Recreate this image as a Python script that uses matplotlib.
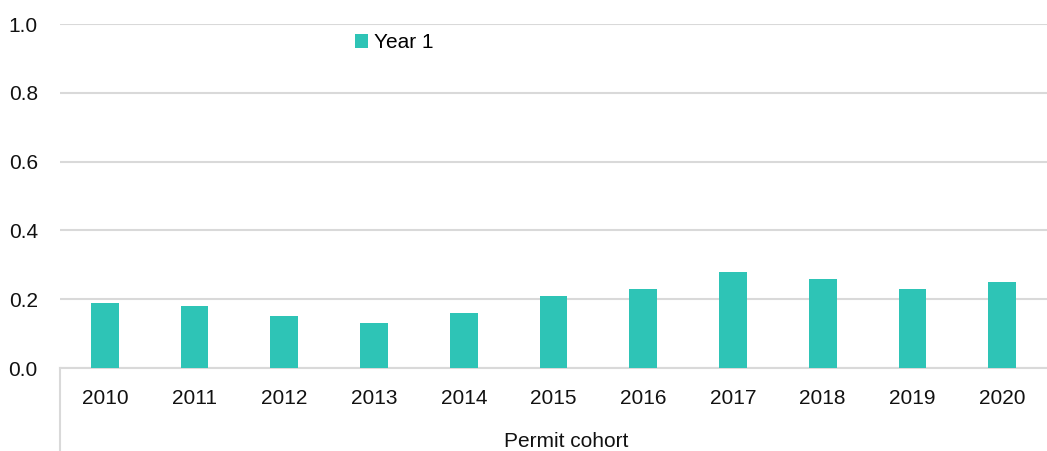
import matplotlib.pyplot as plt
import numpy as np

plt.rcParams["font.family"] = ["Liberation Sans", "DejaVu Sans"]

cohorts = ["2010", "2011", "2012", "2013", "2014", "2015",
           "2016", "2017", "2018", "2019", "2020"]
year1   = [0.19, 0.18, 0.15, 0.13, 0.16, 0.21, 0.23, 0.28, 0.26, 0.23, 0.25]

FS = 15

fig = plt.figure(figsize=(10.47, 4.51), dpi=100)
ax = fig.add_axes([60 / 1047, 1 - 368 / 451, 987 / 1047, 344 / 451])

x = np.arange(len(cohorts))
ax.bar(x, year1, width=0.31, color="#2EC4B6", label="Year 1", zorder=3)

ax.set_xlim(-0.5, len(cohorts) - 0.5)
ax.set_ylim(0, 1.0)
ax.set_yticks(np.arange(0, 1.01, 0.2))
ax.set_yticklabels([f"{v:.1f}" for v in np.arange(0, 1.01, 0.2)])
ax.set_xticks(x)
ax.set_xticklabels(cohorts)
ax.tick_params(axis="both", length=0, labelsize=FS, colors="#111111")
ax.tick_params(axis="y", pad=16)
ax.tick_params(axis="x", pad=15)

ax.grid(axis="y", color="#d9d9d9", linewidth=1.5, zorder=0)
for side in ["top", "right", "left"]:
    ax.spines[side].set_visible(False)
ax.spines["bottom"].set_color("#d9d9d9")
ax.spines["bottom"].set_linewidth(1.5)

# category axis frame extends below the plot
ax.plot([0, 0], [0, -0.245], transform=ax.transAxes, color="#d9d9d9",
        linewidth=1.5, clip_on=False)

ax.set_xlabel("Permit cohort", fontsize=FS, color="#111111")
ax.xaxis.set_label_coords(0.513, -0.215)
ax.xaxis.label.set_va("center")

ax.legend(loc="center left", bbox_to_anchor=(0.28, 0.945), frameon=False,
          fontsize=FS, handlelength=0.6, handleheight=0.6, handletextpad=0.3)

fig.savefig("out.png", dpi=100)
